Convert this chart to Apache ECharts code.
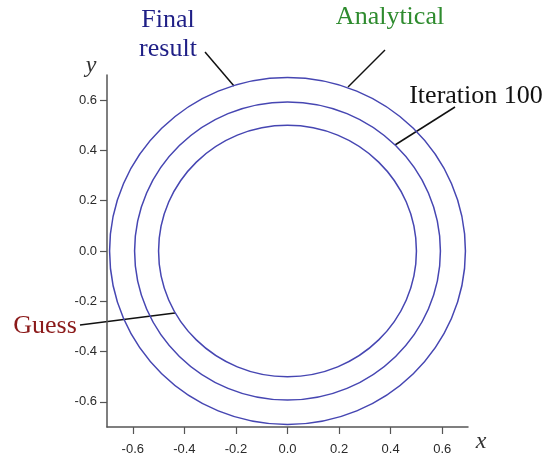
<!DOCTYPE html>
<html>
<head>
<meta charset="utf-8">
<style>html,body{margin:0;padding:0;background:#fff}#c{width:548px;height:464px}</style>
<script src="https://cdn.jsdelivr.net/npm/echarts@6/dist/echarts.min.js"></script>
</head>
<body>
<div id="c"></div>
<script>
// Data: circles as [centerX, centerY, radius]
var circleNames = ['Final result / Analytical', 'Iteration 100', 'Guess'];
var centersX = [0, 0, 0];
var centersY = [0, 0, 0];
var radii = [0.69, 0.593, 0.5];
var xTicks = [-0.6, -0.4, -0.2, 0.0, 0.2, 0.4, 0.6];
var yTicks = [-0.6, -0.4, -0.2, 0.0, 0.2, 0.4, 0.6];
var axisNames = ['x', 'y'];
var annotations = ['Final', 'result', 'Analytical', 'Iteration 100', 'Guess'];

var circleData = radii.map(function (r, i) { return { name: circleNames[i], value: [centersX[i], centersY[i], r] }; });

var chart = echarts.init(document.getElementById('c'), null, { renderer: 'canvas' });
var serif = '"Liberation Serif", "DejaVu Serif", serif';
var sans = '"Liberation Sans", Arial, sans-serif';
function makeAxis(ticks, margin) {
  return {
    type: 'value', min: -0.7, max: 0.7,
    splitLine: { show: false },
    axisLine: { show: true, onZero: false, lineStyle: { color: '#555', width: 1.5 } },
    axisTick: { show: true, inside: false, length: 7, customValues: ticks, lineStyle: { color: '#555', width: 1.2 } },
    axisLabel: { customValues: ticks, margin: margin, color: '#2a2a2a', fontSize: 13, fontFamily: sans,
      formatter: function (v) { return v.toFixed(1); } }
  };
}
var option = {
  animation: false,
  grid: { left: 107, right: 80, top: 75, bottom: 37 },
  xAxis: makeAxis(xTicks, 16),
  yAxis: makeAxis(yTicks, 10),
  series: [{
    type: 'custom',
    coordinateSystem: 'cartesian2d',
    data: circleData,
    renderItem: function (params, api) {
      var c = api.coord([api.value(0), api.value(1)]);
      var s = api.size([api.value(2), api.value(2)]);
      return {
        type: 'ellipse',
        shape: { cx: c[0], cy: c[1], rx: s[0], ry: s[1] },
        style: { fill: null, stroke: '#4646b2', lineWidth: 1.5 }
      };
    }
  }],
  graphic: [
    { type: 'text', x: 481, y: 442, style: { text: axisNames[0], font: 'italic 24px ' + serif, fill: '#333', align: 'center', verticalAlign: 'middle' } },
    { type: 'text', x: 91, y: 66, style: { text: axisNames[1], font: 'italic 24px ' + serif, fill: '#333', align: 'center', verticalAlign: 'middle' } },
    { type: 'text', x: 168, y: 20, style: { text: annotations[0], font: '26px ' + serif, fill: '#1f1f86', align: 'center', verticalAlign: 'middle' } },
    { type: 'text', x: 168, y: 49, style: { text: annotations[1], font: '26px ' + serif, fill: '#1f1f86', align: 'center', verticalAlign: 'middle' } },
    { type: 'text', x: 390, y: 17, style: { text: annotations[2], font: '26px ' + serif, fill: '#2e8b2e', align: 'center', verticalAlign: 'middle' } },
    { type: 'text', x: 476, y: 96, style: { text: annotations[3], font: '26px ' + serif, fill: '#111', align: 'center', verticalAlign: 'middle' } },
    { type: 'text', x: 45, y: 326, style: { text: annotations[4], font: '26px ' + serif, fill: '#8b1a1a', align: 'center', verticalAlign: 'middle' } },
    { type: 'line', shape: { x1: 205, y1: 52, x2: 234, y2: 86 }, style: { stroke: '#111', lineWidth: 1.5 } },
    { type: 'line', shape: { x1: 385, y1: 50, x2: 348, y2: 87 }, style: { stroke: '#111', lineWidth: 1.5 } },
    { type: 'line', shape: { x1: 455, y1: 107, x2: 395, y2: 145 }, style: { stroke: '#111', lineWidth: 1.5 } },
    { type: 'line', shape: { x1: 80, y1: 325, x2: 175, y2: 313 }, style: { stroke: '#111', lineWidth: 1.5 } }
  ]
};
chart.setOption(option);
</script>
</body>
</html>
